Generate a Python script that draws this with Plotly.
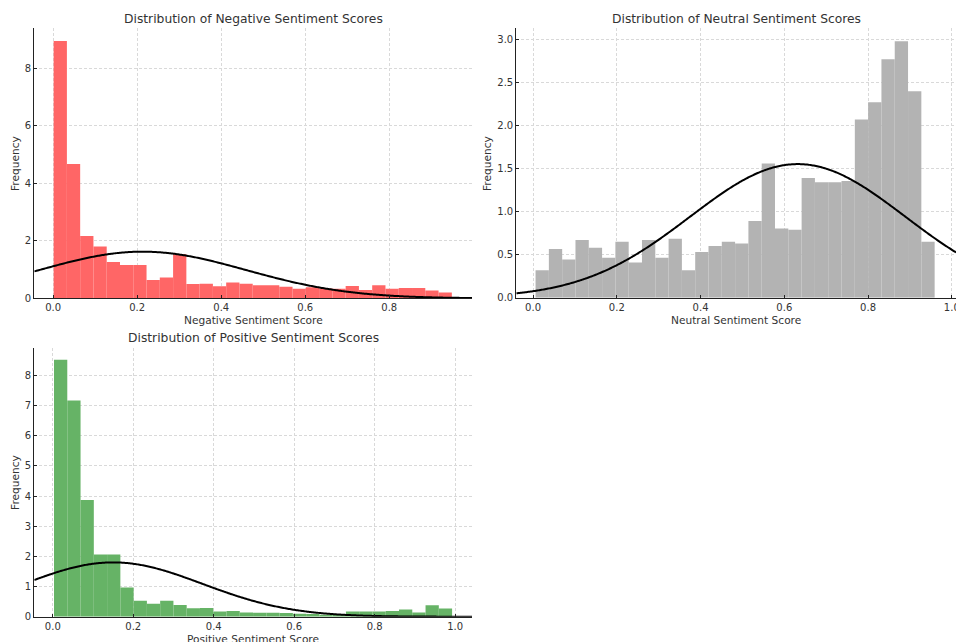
import numpy as np
import plotly.graph_objects as go

# ---------------- data ----------------
neg_bin_range = [0.001, 0.949]
neg_heights = [8.95, 4.67, 2.17, 1.80, 1.26, 1.16, 1.16, 0.64, 0.72, 1.53,
               0.50, 0.51, 0.42, 0.55, 0.51, 0.45, 0.45, 0.40, 0.33, 0.38,
               0.34, 0.33, 0.43, 0.29, 0.45, 0.33, 0.36, 0.36, 0.27, 0.20]
neg_mu, neg_sigma = 0.213, 0.246

neu_bin_range = [0.006, 0.959]
neu_heights = [0.32, 0.565, 0.445, 0.67, 0.58, 0.465, 0.65, 0.41, 0.67, 0.465,
               0.685, 0.32, 0.53, 0.60, 0.65, 0.63, 0.89, 1.56, 0.805, 0.79,
               1.39, 1.34, 1.34, 1.355, 2.07, 2.27, 2.77, 2.98, 2.40, 0.65]
neu_mu, neu_sigma = 0.632, 0.257

pos_bin_range = [0.003, 0.9925]
pos_heights = [8.52, 7.17, 3.87, 2.06, 2.06, 0.97, 0.53, 0.43, 0.53, 0.39,
               0.28, 0.29, 0.17, 0.19, 0.14, 0.13, 0.13, 0.12, 0.10, 0.09,
               0.06, 0.06, 0.17, 0.17, 0.17, 0.19, 0.24, 0.14, 0.38, 0.27]
pos_mu, pos_sigma = 0.150, 0.2216

titles = ["Distribution of Negative Sentiment Scores",
          "Distribution of Neutral Sentiment Scores",
          "Distribution of Positive Sentiment Scores"]
xlabels = ["Negative Sentiment Score", "Neutral Sentiment Score", "Positive Sentiment Score"]
ylabel = "Frequency"

# ---------------- styling ----------------
W, H = 956, 642
FONT = "DejaVu Sans"
TXT = "#333333"
colors = ["#ff6666", "#b3b3b3", "#66b366"]

# pixel boxes (left, right, top, bottom)
boxes = [(34.3, 472.0, 28.3, 298.3),
         (516.3, 956.0, 28.3, 297.7),
         (34.3, 472.0, 347.7, 616.7)]
ylab_off = [18.6, 29.3, 18.6]
xranges = [[-0.045, 0.997], [-0.040, 1.010], [-0.046, 1.042]]
yranges = [[0, 9.39], [0, 3.13], [0, 8.92]]
ydticks = [2, 0.5, 1]
yfmt = ["d", ".1f", "d"]

panels = [(neg_bin_range, neg_heights, neg_mu, neg_sigma),
          (neu_bin_range, neu_heights, neu_mu, neu_sigma),
          (pos_bin_range, pos_heights, pos_mu, pos_sigma)]

fig = go.Figure()
annotations = []
layout = dict(width=W, height=H,
              margin=dict(l=0, r=0, t=0, b=0, pad=0, autoexpand=False),
              plot_bgcolor="white", paper_bgcolor="white", showlegend=False,
              font=dict(family=FONT, size=10, color=TXT))

for i, ((rng, hts, mu, sd), box) in enumerate(zip(panels, boxes)):
    n = len(hts)
    edges = np.linspace(rng[0], rng[1], n + 1)
    centers = (edges[:-1] + edges[1:]) / 2
    width = edges[1] - edges[0]
    xa = "x" if i == 0 else f"x{i+1}"
    ya = "y" if i == 0 else f"y{i+1}"
    fig.add_trace(go.Bar(x=centers, y=hts, width=width, xaxis=xa, yaxis=ya,
                         marker=dict(color=colors[i], line=dict(width=0)),
                         hoverinfo="x+y"))
    xs = np.linspace(xranges[i][0], xranges[i][1], 400)
    ys = np.exp(-0.5 * ((xs - mu) / sd) ** 2) / (sd * np.sqrt(2 * np.pi))
    fig.add_trace(go.Scatter(x=xs, y=ys, mode="lines", xaxis=xa, yaxis=ya,
                             line=dict(color="black", width=2, simplify=False),
                             cliponaxis=True))

    l, r, t, b = box
    xkey = "xaxis" if i == 0 else f"xaxis{i+1}"
    ykey = "yaxis" if i == 0 else f"yaxis{i+1}"
    common = dict(showline=True, linecolor="#222222", linewidth=1.2,
                  ticks="inside", ticklen=3, tickcolor="#222222",
                  showgrid=True, gridcolor="#d9d9d9", griddash="3px,2px", gridwidth=0.8,
                  zeroline=False, tickfont=dict(size=10, color=TXT), automargin=False)
    layout[xkey] = dict(domain=[l / W, min(r / W, 1.0)], range=xranges[i],
                        anchor=ya, tick0=0, dtick=0.2, tickformat=".1f",
                        ticklabeloverflow="allow", **common)
    layout[ykey] = dict(domain=[1 - b / H, 1 - t / H], range=yranges[i],
                        anchor=xa, tick0=0, dtick=ydticks[i], tickformat=yfmt[i], **common)
    annotations.append(dict(text=titles[i], x=(l + r) / 2 / W, y=1 - (t - 9.5) / H,
                            xref="paper", yref="paper", showarrow=False,
                            xanchor="center", yanchor="middle",
                            font=dict(size=12.3, color=TXT, family=FONT)))
    annotations.append(dict(text=xlabels[i], x=(l + r) / 2 / W, y=1 - (b + 22) / H,
                            xref="paper", yref="paper", showarrow=False,
                            xanchor="center", yanchor="middle",
                            font=dict(size=10.6, color=TXT, family=FONT)))
    annotations.append(dict(text=ylabel, x=(l - ylab_off[i]) / W, y=1 - (t + b) / 2 / H,
                            xref="paper", yref="paper", showarrow=False, textangle=-90,
                            xanchor="center", yanchor="middle",
                            font=dict(size=10.6, color=TXT, family=FONT)))

layout["annotations"] = annotations
fig.update_layout(**layout)
fig.write_html("out.html", config={"displayModeBar": False, "responsive": False})

# remove the browser's default body margin so the figure sits at (0, 0)
with open("out.html", "r", encoding="utf-8") as f:
    html = f.read()
html = html.replace("<head>", "<head><style>html,body{margin:0;padding:0;overflow:hidden;}</style>", 1)
with open("out.html", "w", encoding="utf-8") as f:
    f.write(html)
